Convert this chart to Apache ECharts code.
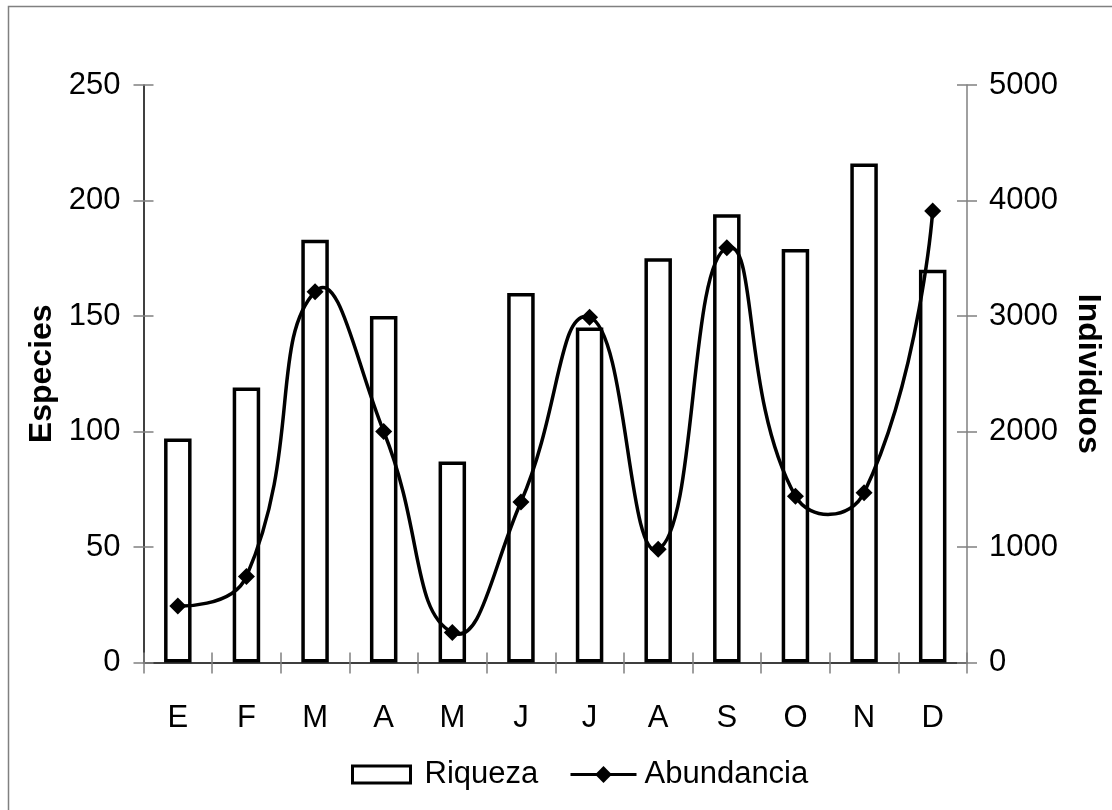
<!DOCTYPE html>
<html>
<head>
<meta charset="utf-8">
<script src="https://cdn.jsdelivr.net/npm/echarts@6/dist/echarts.min.js"></script>
<style>
  html, body { margin: 0; padding: 0; background: #ffffff; }
  #chart { width: 1112px; height: 810px; }
</style>
</head>
<body>
<div id="chart"></div>
<script>
// Monthly species richness (bars, left axis) and abundance (smoothed line, right axis)
const months = ['E', 'F', 'M', 'A', 'M', 'J', 'J', 'A', 'S', 'O', 'N', 'D'];
const riqueza = [97, 119, 183, 150, 87, 160, 145, 175, 194, 179, 216, 170];
const abundancia = [490, 745, 3210, 2000, 260, 1390, 2990, 980, 3590, 1440, 1470, 3910];
const speciesScale = { min: 0, max: 250, interval: 50 };
const individualsScale = { min: 0, max: 5000, interval: 1000 };

const FONT = '"Liberation Sans", Arial, sans-serif';
const GRAY = '#808080';
const labelStyle = { fontFamily: FONT, fontSize: 31, color: '#000' };
const SMOOTH = 0.5;

// Bezier segments through the points; control points follow the neighbour
// direction weighted by segment length, without clamping (lets the curve swing).
function smoothSegments(pts) {
  const n = pts.length;
  const cpIn = [], cpOut = [];
  for (let i = 0; i < n; i++) {
    const p = pts[i];
    if (i === 0 || i === n - 1) {
      cpIn[i] = p; cpOut[i] = p;
      continue;
    }
    const a = pts[i - 1], b = pts[i + 1];
    const vx = b[0] - a[0], vy = b[1] - a[1];
    const d0 = Math.hypot(p[0] - a[0], p[1] - a[1]);
    const d1 = Math.hypot(b[0] - p[0], b[1] - p[1]);
    const r = d1 / (d0 + d1);
    cpIn[i] = [p[0] - vx * SMOOTH * (1 - r), p[1] - vy * SMOOTH * (1 - r)];
    cpOut[i] = [p[0] + vx * SMOOTH * r, p[1] + vy * SMOOTH * r];
  }
  const segs = [];
  for (let i = 1; i < n; i++) {
    segs.push({
      type: 'bezierCurve',
      shape: {
        x1: pts[i - 1][0], y1: pts[i - 1][1],
        cpx1: cpOut[i - 1][0], cpy1: cpOut[i - 1][1],
        cpx2: cpIn[i][0], cpy2: cpIn[i][1],
        x2: pts[i][0], y2: pts[i][1]
      },
      style: { fill: null, stroke: '#000', lineWidth: 3.5, lineCap: 'round' }
    });
  }
  return segs;
}

const chart = echarts.init(document.getElementById('chart'), null, { renderer: 'canvas' });

chart.setOption({
  backgroundColor: '#ffffff',
  animation: false,
  graphic: [{
    type: 'rect',
    shape: { x: 8.5, y: 6.5, width: 1300, height: 1000 },
    style: { fill: 'none', stroke: GRAY, lineWidth: 1.5 },
    silent: true
  }],
  grid: { left: 143.5, right: 135.5, top: 85, bottom: 147.5 },
  legend: [
    {
      data: ['Riqueza'],
      left: 351, top: 759, padding: 0,
      itemWidth: 58, itemHeight: 17,
      icon: 'rect',
      itemStyle: { color: '#fff', borderColor: '#000', borderWidth: 3 },
      textStyle: { fontFamily: FONT, fontSize: 31, color: '#000', padding: [0, 0, 0, 9] }
    },
    {
      data: ['Abundancia'],
      left: 569, top: 759, padding: 0,
      itemWidth: 66, itemHeight: 21,
      itemStyle: { color: '#000' },
      lineStyle: { color: '#000', width: 3, opacity: 1 },
      textStyle: { fontFamily: FONT, fontSize: 31, color: '#000', padding: [0, 0, 0, 3] }
    }
  ],
  xAxis: [
    {
      type: 'category', data: months, gridIndex: 0,
      axisLine: { lineStyle: { color: '#000', width: 1.5 } },
      axisTick: { show: true, length: 11, lineStyle: { color: GRAY, width: 1.5 } },
      axisLabel: Object.assign({ margin: 40 }, labelStyle)
    },
    {
      type: 'category', data: months, gridIndex: 0, position: 'bottom',
      axisLine: { show: false },
      axisTick: { show: true, inside: true, length: 10, lineStyle: { color: GRAY, width: 1.5 } },
      axisLabel: { show: false }
    }
  ],
  yAxis: [
    Object.assign({
      type: 'value', position: 'left',
      name: 'Especies', nameLocation: 'middle', nameRotate: 90, nameGap: 81,
      nameTextStyle: { fontFamily: FONT, fontSize: 32, fontWeight: 'bold', color: '#000' },
      axisLine: { show: true, lineStyle: { color: '#000', width: 1.5 } },
      axisTick: { show: true, length: 10, lineStyle: { color: GRAY, width: 1.5 } },
      axisLabel: Object.assign({ margin: 23 }, labelStyle),
      splitLine: { show: false }
    }, speciesScale),
    Object.assign({
      type: 'value', position: 'right',
      name: 'Individuos', nameLocation: 'middle', nameRotate: -90, nameGap: 105,
      nameTextStyle: { fontFamily: FONT, fontSize: 32, fontWeight: 'bold', color: '#000' },
      axisLine: { show: true, lineStyle: { color: GRAY, width: 1.5 } },
      axisTick: { show: true, length: 10, lineStyle: { color: GRAY, width: 1.5 } },
      axisLabel: Object.assign({ margin: 22, formatter: v => String(v) }, labelStyle),
      splitLine: { show: false }
    }, individualsScale),
    Object.assign({
      type: 'value', position: 'left',
      axisLine: { show: false },
      axisTick: { show: true, inside: true, length: 10, lineStyle: { color: GRAY, width: 1.5 } },
      axisLabel: { show: false }, splitLine: { show: false }
    }, speciesScale),
    Object.assign({
      type: 'value', position: 'right',
      axisLine: { show: false },
      axisTick: { show: true, inside: true, length: 10, lineStyle: { color: GRAY, width: 1.5 } },
      axisLabel: { show: false }, splitLine: { show: false }
    }, individualsScale)
  ],
  series: [
    {
      name: 'Riqueza', type: 'bar', xAxisIndex: 0, yAxisIndex: 0, z: 2,
      data: riqueza, barWidth: 27.5,
      itemStyle: { color: '#ffffff', borderColor: '#000000', borderWidth: 3.5 }
    },
    {
      name: 'Abundancia (curva)', type: 'custom', xAxisIndex: 0, yAxisIndex: 1, z: 5,
      data: abundancia.map((v, i) => [i, v]),
      silent: true,
      renderItem: function (params, api) {
        if (params.dataIndex !== 0) return null;
        const pts = abundancia.map((v, i) => api.coord([i, v]));
        return { type: 'group', children: smoothSegments(pts) };
      }
    },
    {
      name: 'Abundancia', type: 'line', xAxisIndex: 0, yAxisIndex: 1, z: 6,
      data: abundancia,
      symbol: 'diamond', symbolSize: 17,
      itemStyle: { color: '#000000' },
      lineStyle: { color: '#000000', width: 3, opacity: 0 }
    }
  ]
});
</script>
</body>
</html>
